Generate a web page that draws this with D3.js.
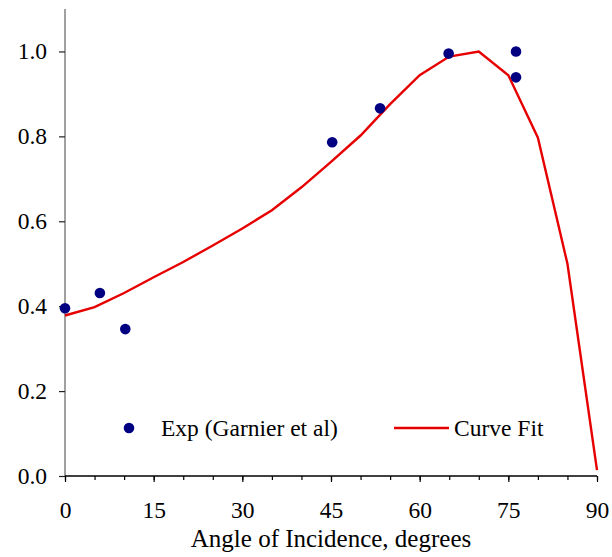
<!DOCTYPE html>
<html>
<head>
<meta charset="utf-8">
<script src="https://cdn.jsdelivr.net/npm/d3@7"></script>
<style>
  body { margin: 0; background: #fff; }
</style>
</head>
<body>
<svg id="chart" width="612" height="557"></svg>
<script>
// Measured reflectance (Garnier et al) against angle of incidence
const expAngles = [0, 5.9, 10.2, 45.2, 53.3, 64.9, 76.3, 76.3];
const expValues = [0.395, 0.431, 0.346, 0.786, 0.866, 0.995, 1.0, 0.939];

// Curve fit sampled every 5 degrees
const fitAngles = [0, 5, 10, 15, 20, 25, 30, 35, 40, 45, 50, 55, 60, 65, 70, 75, 80, 85, 90];
const fitValues = [0.378, 0.398, 0.431, 0.468, 0.504, 0.543, 0.583, 0.626, 0.68, 0.74, 0.802, 0.876, 0.944, 0.988, 1.0, 0.944, 0.797, 0.50, 0.014];

const xTicks = [0, 15, 30, 45, 60, 75, 90];
const xMinorTicks = d3.range(0, 91, 5);
const yTicks = [0.0, 0.2, 0.4, 0.6, 0.8, 1.0];

const xTitle = "Angle of Incidence, degrees";
const legendLabels = ["Exp (Garnier et al)", "Curve Fit"];

const svg = d3.select("#chart");
const plotLeft = 65, plotRight = 597, plotTop = 9, plotBottom = 476;
const serif = "Liberation Serif";
const tickFont = 23.5, titleFont = 25;
const red = "#e60000", navy = "#000080";

const x = d3.scaleLinear().domain([0, 90]).range([plotLeft, plotRight]);
const y = d3.scaleLinear().domain([0, 1.1]).range([plotBottom, plotTop]);

// Y axis (grey spine, major ticks only)
const yAxis = svg.append("g").attr("transform", `translate(${plotLeft},0)`)
  .call(d3.axisLeft(y).tickValues(yTicks).tickSize(6).tickPadding(12).tickFormat(d3.format(".1f")));
yAxis.attr("font-family", serif).attr("font-size", tickFont);
yAxis.select(".domain").attr("stroke", "#808080").attr("stroke-width", 1.5).attr("d", `M0,${plotBottom}V${plotTop}`);
yAxis.selectAll(".tick line").attr("stroke", "#222").attr("stroke-width", 1.2);
yAxis.selectAll(".tick text").attr("fill", "#000");

// X axis: minor ticks every 5 degrees, labelled majors every 15
const xMinor = svg.append("g").attr("transform", `translate(0,${plotBottom})`)
  .call(d3.axisBottom(x).tickValues(xMinorTicks).tickSize(4).tickFormat(""));
xMinor.select(".domain").remove();
xMinor.selectAll(".tick line").attr("stroke", "#000").attr("stroke-width", 1.2);

const xAxis = svg.append("g").attr("transform", `translate(0,${plotBottom})`)
  .call(d3.axisBottom(x).tickValues(xTicks).tickSize(6).tickPadding(19).tickFormat(d3.format("d")));
xAxis.attr("font-family", serif).attr("font-size", tickFont);
xAxis.select(".domain").attr("stroke", "#000").attr("stroke-width", 1.5).attr("d", `M${plotLeft},0H${plotRight}`);
xAxis.selectAll(".tick line").attr("stroke", "#000").attr("stroke-width", 1.2);
xAxis.selectAll(".tick text").attr("fill", "#000");

svg.append("text")
  .attr("x", 331)
  .attr("y", 547)
  .attr("text-anchor", "middle")
  .attr("font-family", serif)
  .attr("font-size", titleFont)
  .text(xTitle);

// Curve fit line
const line = d3.line().x(d => x(d[0])).y(d => y(d[1]));
svg.append("path")
  .datum(d3.zip(fitAngles, fitValues))
  .attr("fill", "none")
  .attr("stroke", red)
  .attr("stroke-width", 2.4)
  .attr("stroke-linejoin", "miter")
  .attr("d", line);

// Experimental points
svg.append("g").selectAll("circle")
  .data(d3.zip(expAngles, expValues))
  .join("circle")
  .attr("cx", d => x(d[0]))
  .attr("cy", d => y(d[1]))
  .attr("r", 5.3)
  .attr("fill", navy);

// Legend
const legY = 428, legBase = 436;
const legend = svg.append("g").attr("font-family", serif).attr("font-size", tickFont);
legend.append("circle").attr("cx", 129).attr("cy", legY).attr("r", 5.3).attr("fill", navy);
legend.append("text").attr("x", 161).attr("y", legBase).text(legendLabels[0]);
legend.append("line").attr("x1", 394).attr("x2", 449).attr("y1", legY).attr("y2", legY)
  .attr("stroke", red).attr("stroke-width", 2.4);
legend.append("text").attr("x", 454).attr("y", legBase).text(legendLabels[1]);
</script>
</body>
</html>
